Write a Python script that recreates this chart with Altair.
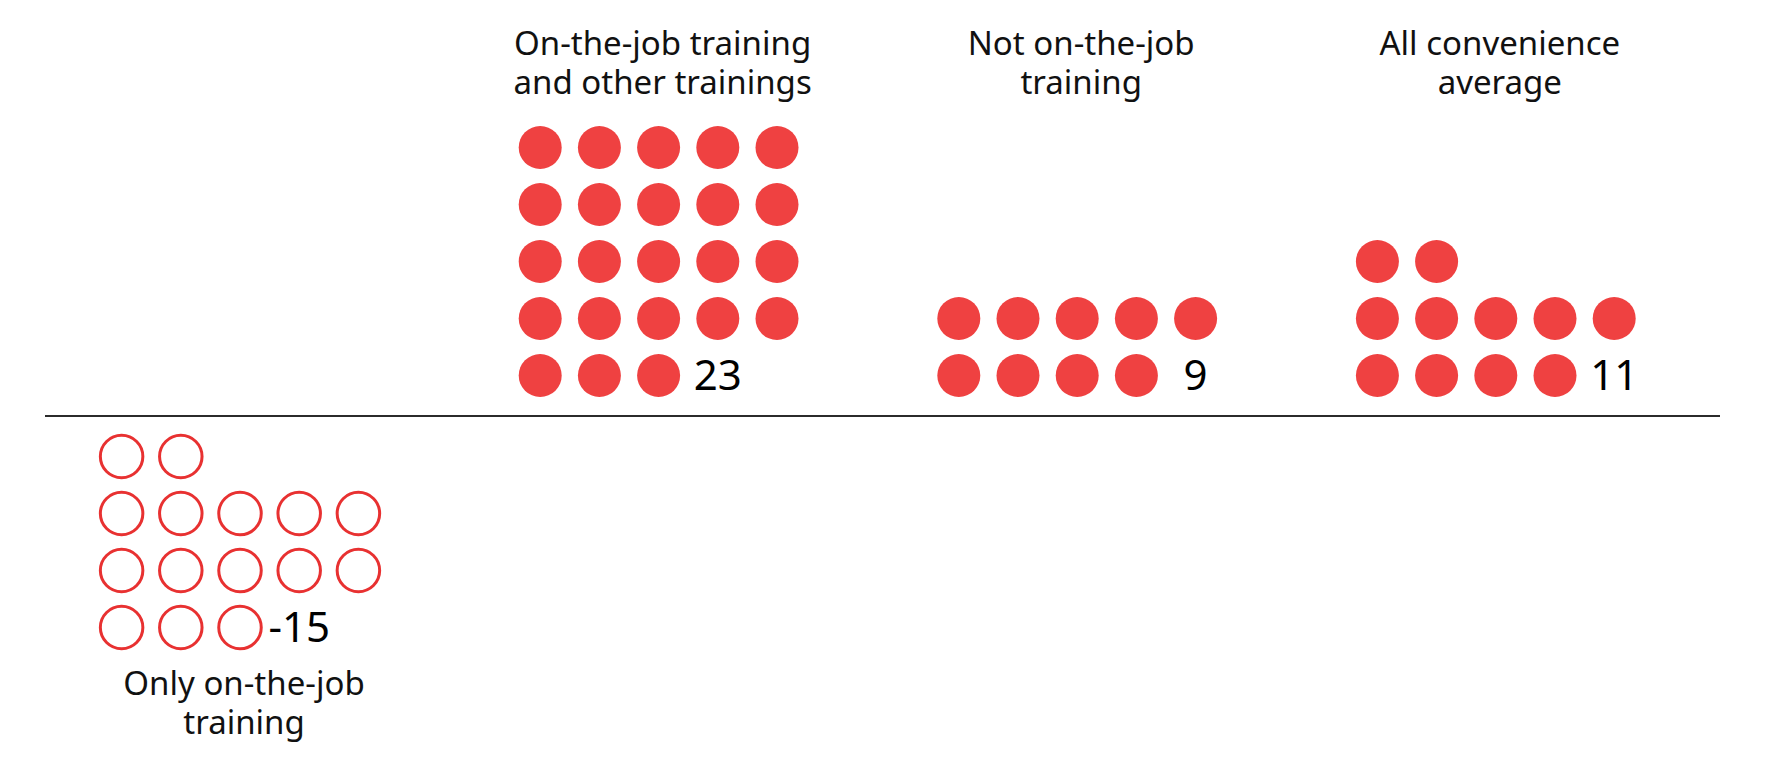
import altair as alt
import pandas as pd

# ---- data ----
categories = [
    "Only on-the-job\ntraining",
    "On-the-job training\nand other trainings",
    "Not on-the-job\ntraining",
    "All convenience\naverage",
]
values = [-15, 23, 9, 11]
# dots per row, listed from top row to bottom row (label follows the bottom row)
row_counts = [[2, 5, 5, 3], [5, 5, 5, 5, 3], [5, 4], [2, 5, 4]]

# ---- layout (pixels) ----
W, H = 1758, 752
LINE_Y = 408            # baseline position from chart top
CAT0 = 232              # centre of first category
CAT_STEP = 418.6        # distance between category centres
COL_STEP = 59.2         # dot column spacing
ROW_STEP = 57           # dot row spacing
ROW0 = 40.5             # offset of first row from the baseline
FILL = "#EF4141"
STROKE = "#E83131"
FONT = "Noto Sans"

dots, labels, titles = [], [], []
for ci, (cat, val, rows) in enumerate(zip(categories, values, row_counts)):
    cx = CAT0 + ci * CAT_STEP
    n = len(rows)
    for ri, cnt in enumerate(rows):
        if val >= 0:
            y = ROW0 + ROW_STEP * (n - 1 - ri)
        else:
            y = -(ROW0 + ROW_STEP * ri)
        for k in range(cnt):
            dots.append({"x": cx + (k - 2) * COL_STEP, "y": y,
                         "kind": "pos" if val >= 0 else "neg"})
    last_cnt = rows[-1]
    last_y = ROW0 if val >= 0 else -(ROW0 + ROW_STEP * (n - 1))
    labels.append({"x": cx + (last_cnt - 2) * COL_STEP, "y": last_y, "t": str(val)})
    titles.append({"x": cx + 4, "y": (LINE_Y - 47) if val >= 0 else -(687 - LINE_Y), "t": cat})

dots = pd.DataFrame(dots)
labels = pd.DataFrame(labels)
titles = pd.DataFrame(titles)

xs = alt.Scale(domain=[0, W], range=[0, W], nice=False, zero=False)
ys = alt.Scale(domain=[LINE_Y - H, LINE_Y], range=[H, 0], nice=False, zero=False)

X = lambda: alt.X("x:Q", scale=xs, axis=None)
Y = lambda: alt.Y("y:Q", scale=ys, axis=None)

filled = alt.Chart(dots[dots.kind == "pos"]).mark_point(
    shape="circle", filled=True, size=43 * 43, color=FILL, opacity=1
).encode(x=X(), y=Y())

hollow = alt.Chart(dots[dots.kind == "neg"]).mark_point(
    shape="circle", filled=False, size=42.5 * 42.5, color=STROKE, strokeWidth=3, opacity=1
).encode(x=X(), y=Y())

baseline = alt.Chart(pd.DataFrame({"x": [37], "x2": [1712], "y": [0]})).mark_rule(
    color="#2b2b2b", strokeWidth=2
).encode(x=X(), x2="x2:Q", y=Y())

label_text = alt.Chart(labels).mark_text(
    font=FONT, fontSize=42, align="center", baseline="middle", color="#000", dy=1
).encode(x=X(), y=Y(), text="t:N")

title_text = alt.Chart(titles).mark_text(
    font=FONT, fontSize=33, align="center", baseline="alphabetic", color="#111",
    lineBreak="\n", lineHeight=39
).encode(x=X(), y=Y(), text="t:N")

chart = alt.layer(baseline, filled, hollow, label_text, title_text).properties(
    width=W, height=H, padding=0, autosize=alt.AutoSizeParams(type="none"),
    background="white"
).configure_view(strokeWidth=0)

chart.save("out.html", embed_options={"renderer": "svg", "actions": False})
